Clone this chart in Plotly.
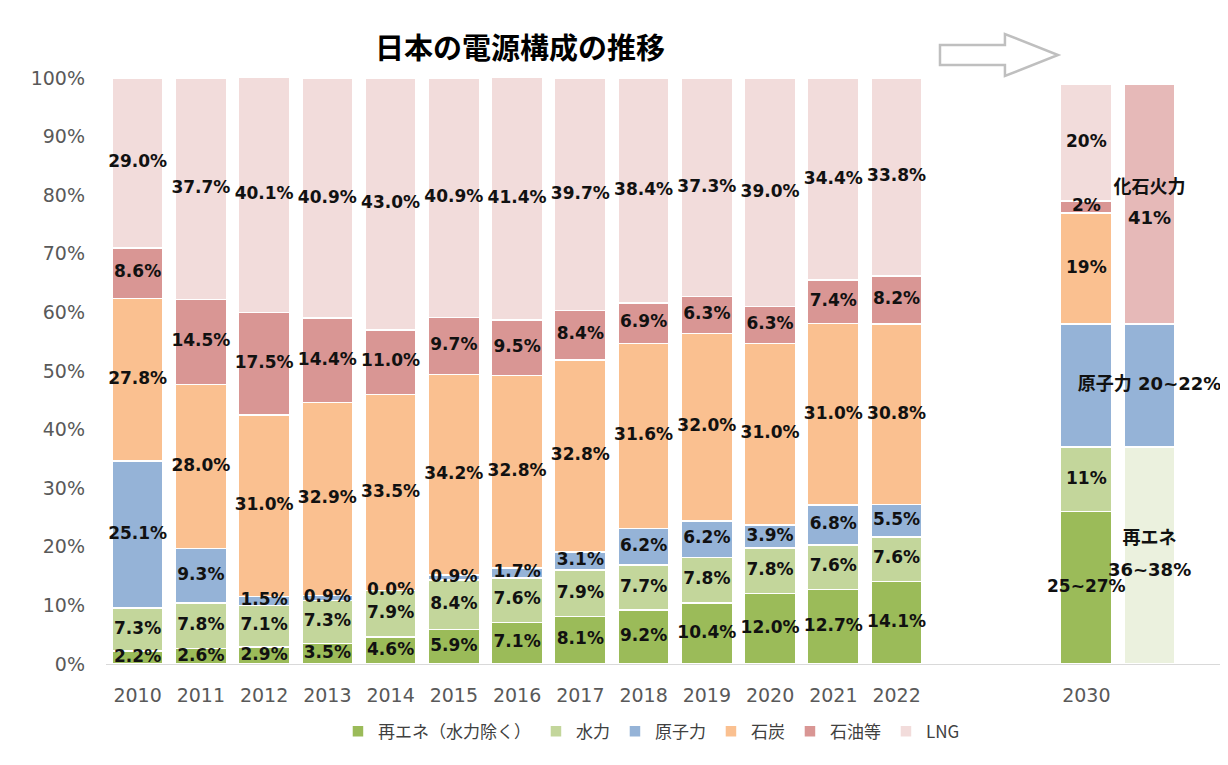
import numpy as np
import plotly.graph_objects as go

years = ["2010", "2011", "2012", "2013", "2014", "2015", "2016",
         "2017", "2018", "2019", "2020", "2021", "2022", "2030"]
x_pos = [0, 1, 2, 3, 4, 5, 6, 7, 8, 9, 10, 11, 12, 15]

renewables = [2.2, 2.6, 2.9, 3.5, 4.6, 5.9, 7.1, 8.1, 9.2, 10.4, 12.0, 12.7, 14.1, 26]
hydro = [7.3, 7.8, 7.1, 7.3, 7.9, 8.4, 7.6, 7.9, 7.7, 7.8, 7.8, 7.6, 7.6, 11]
nuclear = [25.1, 9.3, 1.5, 0.9, 0.0, 0.9, 1.7, 3.1, 6.2, 6.2, 3.9, 6.8, 5.5, 21]
coal = [27.8, 28.0, 31.0, 32.9, 33.5, 34.2, 32.8, 32.8, 31.6, 32.0, 31.0, 31.0, 30.8, 19]
oil = [8.6, 14.5, 17.5, 14.4, 11.0, 9.7, 9.5, 8.4, 6.9, 6.3, 6.3, 7.4, 8.2, 2]
lng = [29.0, 37.7, 40.1, 40.9, 43.0, 40.9, 41.4, 39.7, 38.4, 37.3, 39.0, 34.4, 33.8, 20]

# 2030 target labels (ranges) for the first 2030 bar
labels_2030 = ["25~27%", "11%", "", "19%", "2%", "20%"]

# second 2030 bar: grouped view
group_names = ["再エネ", "原子力", "化石火力"]
group_values = [37, 21, 41]
group_top_text = ["再エネ", "", "化石火力"]
group_bottom_text = ["36~38%", "", "41%"]
group_mid_text = ["", "原子力 20~22%", ""]

y_ticks = list(range(0, 101, 10))
y_tick_text = [f"{v}%" for v in y_ticks]

series = [
    ("再エネ（水力除く）", renewables, "#9bbb59"),
    ("水力", hydro, "#c3d69b"),
    ("原子力", nuclear, "#95b3d7"),
    ("石炭", coal, "#fac090"),
    ("石油等", oil, "#d99694"),
    ("LNG", lng, "#f2dcdb"),
]
group_colors = ["#ebf1de", "#95b3d7", "#e6b9b8"]

label_font = dict(family="DejaVu Sans, Noto Sans CJK JP", size=17,
                  color="#111111", weight="bold")
group_font = dict(family="DejaVu Sans, Noto Sans CJK JP", size=18,
                  color="#111111", weight="bold")

fig = go.Figure()

for name, values, color in series:
    fig.add_trace(go.Bar(
        x=x_pos, y=values, name=name,
        marker=dict(color=color, line=dict(color="white", width=1.5)),
        hoverinfo="skip",
    ))

for name, value, color in zip(group_names, group_values, group_colors):
    fig.add_trace(go.Bar(
        x=[16], y=[value], name=name, showlegend=False,
        marker=dict(color=color, line=dict(color="white", width=1.5)),
        hoverinfo="skip",
    ))

# segment labels at the middle of each stacked piece
stack = np.array([s[1] for s in series], dtype=float)
tops = np.cumsum(stack, axis=0)
mids = tops - stack / 2
for i in range(len(series)):
    texts = [f"{v:.1f}%" for v in stack[i][:-1]] + [labels_2030[i]]
    fig.add_trace(go.Scatter(
        x=x_pos, y=mids[i], mode="text", text=texts,
        textfont=label_font, showlegend=False, hoverinfo="skip",
        cliponaxis=False,
    ))

# labels for the grouped 2030 bar (two-line labels split around the midpoint)
g = np.array(group_values, dtype=float)
g_mids = np.cumsum(g) - g / 2
g_x = [16] * len(group_values)
for texts, pos in [(group_top_text, "top center"),
                   (group_bottom_text, "bottom center")]:
    fig.add_trace(go.Scatter(
        x=g_x, y=g_mids, mode="markers+text", text=texts,
        textposition=pos, marker=dict(size=9, opacity=0),
        textfont=group_font, showlegend=False, hoverinfo="skip",
        cliponaxis=False,
    ))
fig.add_trace(go.Scatter(
    x=g_x, y=g_mids, mode="text", text=group_mid_text,
    textfont=group_font, showlegend=False, hoverinfo="skip",
    cliponaxis=False,
))

# outlined arrow pointing to 2030
fig.add_shape(
    type="path", xref="paper", yref="paper",
    path="M 0.7433 1.0562 L 0.8012 1.0562 L 0.8012 1.0750 L 0.8485 1.0392 "
         "L 0.8012 1.0034 L 0.8012 1.0221 L 0.7433 1.0221 Z",
    line=dict(color="#bfbfbf", width=2.5), fillcolor="white",
)

fig.update_layout(
    width=1228, height=765,
    barmode="stack", bargap=0.19,
    plot_bgcolor="white", paper_bgcolor="white",
    margin=dict(l=98, r=8, t=70, b=108),
    title=dict(
        text="<b>日本の電源構成の推移</b>",
        x=0.417, xanchor="center", xref="container",
        y=0.946, yanchor="middle", yref="container",
        font=dict(family="Noto Sans CJK JP", size=29, color="#000000"),
    ),
    legend=dict(
        orientation="h", xref="container", yref="container",
        x=0.524, xanchor="center", y=0.054, yanchor="middle",
        font=dict(family="Noto Sans CJK JP", size=17, color="#404040"),
        traceorder="normal",
    ),
    font=dict(family="DejaVu Sans"),
)

fig.update_xaxes(
    range=[-0.5, 17.24],
    tickvals=x_pos, ticktext=years,
    showgrid=False, zeroline=False,
    showline=True, linecolor="#d9d9d9", linewidth=1,
    ticks="", ticklabelstandoff=14,
    tickfont=dict(family="DejaVu Sans", size=19, color="#595959"),
)
fig.update_yaxes(
    range=[0, 100],
    tickvals=y_ticks, ticktext=y_tick_text,
    showgrid=False, zeroline=False, showline=False,
    ticks="", ticklabelstandoff=20,
    tickfont=dict(family="DejaVu Sans", size=19, color="#595959"),
)

fig.write_html("out.html")
